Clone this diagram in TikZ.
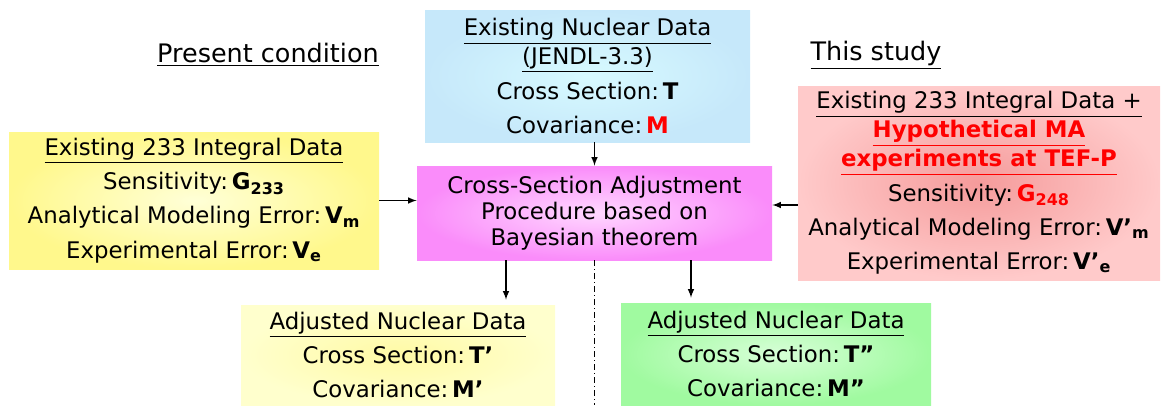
\documentclass[tikz,border=0pt]{standalone}
\usepackage{fontspec}
\setmainfont{DejaVu Sans}
\usetikzlibrary{positioning}

\definecolor{nucin}{RGB}{215,250,255}
\definecolor{nucout}{RGB}{198,232,250}
\definecolor{intin}{RGB}{255,255,215}
\definecolor{intout}{RGB}{255,248,140}
\definecolor{procin}{RGB}{255,215,255}
\definecolor{procout}{RGB}{250,140,250}
\definecolor{hypin}{RGB}{245,155,155}
\definecolor{hypout}{RGB}{255,202,202}
\definecolor{adjin}{RGB}{255,250,165}
\definecolor{adjout}{RGB}{255,255,205}
\definecolor{newin}{RGB}{215,255,215}
\definecolor{newout}{RGB}{160,250,160}
\definecolor{hot}{RGB}{255,0,0}

\newcommand{\hd}[1]{\underline{#1}}
\newcommand{\qsym}[2]{\textbf{#1}\textsubscript{\textbf{#2}}}

\begin{document}
\begin{tikzpicture}[
    box/.style={rectangle, inner sep=0pt, align=center, font=\fontsize{13}{16.5}\selectfont},
    nuc/.style={box, inner color=nucin, outer color=nucout, minimum width=6.5cm, minimum height=2.64cm},
    intg/.style={box, inner color=intin, outer color=intout, minimum width=7.4cm, minimum height=2.74cm},
    proc/.style={box, inner color=procin, outer color=procout, minimum width=7.1cm, minimum height=1.88cm,
        font=\fontsize{13}{14.8}\selectfont},
    hyp/.style={box, inner color=hypin, outer color=hypout, minimum width=7.24cm, minimum height=3.88cm},
    adj/.style={box, inner color=adjin, outer color=adjout, minimum width=6.28cm, minimum height=2.0cm},
    adjnew/.style={box, inner color=newin, outer color=newout, minimum width=6.2cm, minimum height=2.04cm},
    title/.style={font=\fontsize{14.5}{16}\selectfont},
    arr/.style={-latex, line width=0.7pt}]
    \useasboundingbox (0,0) rectangle (23.4,-8.1);

    % input data and adjustment procedure
    \node [nuc] (exist) at (11.75,-1.52) {\hd{Existing Nuclear Data}\\\hd{(JENDL-3.3)}\\[3pt]
        Cross Section:\,\textbf{T}\\[3pt]Covariance:\,\textcolor{hot}{\textbf{M}}};
    \node [proc] (adjust) at (11.89,-4.26) {Cross-Section Adjustment\\Procedure based on\\Bayesian theorem};
    \node [intg] (present) at (3.88,-4.01) {\hd{Existing 233 Integral Data}\\[3pt]
        Sensitivity:\,\qsym{G}{233}\\[3pt]Analytical Modeling Error:\,\qsym{V}{m}\\[3pt]
        Experimental Error:\,\qsym{V}{e}};
    \node [hyp] (study) at (19.58,-3.66) {\hd{Existing 233 Integral Data +}\\
        \textcolor{hot}{\textbf{\hd{Hypothetical MA}}}\\\textcolor{hot}{\textbf{\hd{experiments at TEF-P}}}\\[3pt]
        Sensitivity:\,\textcolor{hot}{\qsym{G}{248}}\\[3pt]Analytical Modeling Error:\,\qsym{V'}{m}\\[3pt]
        Experimental Error:\,\qsym{V'}{e}};

    % results of the adjustment
    \node [adj] (adjold) at (7.96,-7.10) {\hd{Adjusted Nuclear Data}\\[3pt]
        Cross Section:\,\textbf{T'}\\[3pt]Covariance:\,\textbf{M'}};
    \node [adjnew] (adjnew) at (15.52,-7.08) {\hd{Adjusted Nuclear Data}\\[3pt]
        Cross Section:\,\textbf{T''}\\[3pt]Covariance:\,\textbf{M''}};

    \node [title] (tpresent) at (5.36,-1.1) {\hd{Present condition}};
    \node [title] (tstudy) at (17.52,-1.1) {\hd{This study}};

    \draw [arr] (adjust.north |- exist.south) -- (adjust.north);
    \draw [arr] (present.east) -- (present.east -| adjust.west);
    \draw [arr] ([yshift=-0.44cm]study.west) -- ([yshift=-0.44cm]study.west -| adjust.east);
    \draw [arr, shorten >=0.1cm] ([xshift=-1.77cm]adjust.south) -- ([xshift=-1.77cm]adjust.south |- adjold.north);
    \draw [arr, shorten >=0.1cm] ([xshift=1.93cm]adjust.south) -- ([xshift=1.93cm]adjust.south |- adjnew.north);
    \draw [dashdotted, line width=0.5pt] (adjust.south) -- (adjust.south |- adjold.south);
\end{tikzpicture}
\end{document}
